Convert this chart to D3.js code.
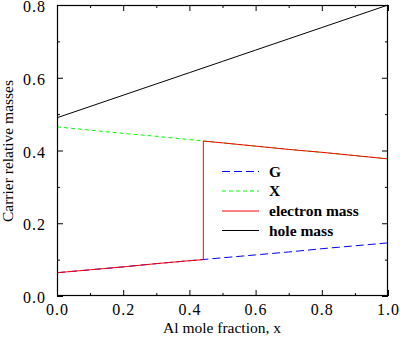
<!DOCTYPE html>
<html><head><meta charset="utf-8">
<script src="https://cdn.jsdelivr.net/npm/d3@7"></script>
<style>body{margin:0;background:#fff}svg{display:block}</style>
</head><body>
<script>
const alFraction = [0,0.1,0.2,0.3,0.4,0.5,0.6,0.7,0.8,0.9,1.0];
const gammaMass = [0.064,0.072,0.080,0.089,0.097,0.105,0.113,0.121,0.130,0.138,0.146];
const xMass     = [0.465,0.456,0.447,0.439,0.430,0.421,0.412,0.403,0.395,0.386,0.377];
const holeMass  = [0.490,0.521,0.552,0.583,0.614,0.645,0.676,0.707,0.738,0.769,0.800];
const electronX    = [0,0.1,0.2,0.3,0.4,0.442,0.442,0.5,0.6,0.7,0.8,0.9,1.0];
const electronMass = [0.064,0.072,0.080,0.089,0.097,0.100,0.426,0.421,0.412,0.403,0.395,0.386,0.377];
const xTicks = [0,0.2,0.4,0.6,0.8,1.0];
const yTicks = [0,0.2,0.4,0.6,0.8];
const legendLabels = ["G","X","electron mass","hole mass"];

const W=400,H=345, L=57,R=388,T=5,B=296;
const svg=d3.select("body").append("svg").attr("width",W).attr("height",H);
const x=d3.scaleLinear().domain([0,1]).range([L,R]);
const y=d3.scaleLinear().domain([0,0.8]).range([B,T]);
const font="'Liberation Serif','Times New Roman',serif";

const line=d3.line().x(d=>x(d[0])).y(d=>y(d[1]));
const series=[
 {pts:d3.zip(alFraction,gammaMass),color:"#0000ff",dash:"8,4"},
 {pts:d3.zip(alFraction,xMass),color:"#00ff00",dash:"4,3"},
 {pts:d3.zip(electronX,electronMass),color:"#ff0000",dash:null},
 {pts:d3.zip(alFraction,holeMass),color:"#000000",dash:null}
];
series.forEach(s=>{
  svg.append("path").attr("d",line(s.pts)).attr("fill","none")
    .attr("stroke",s.color).attr("stroke-width",1)
    .attr("stroke-dasharray",s.dash);
});

// frame
svg.append("rect").attr("x",L+0.5).attr("y",T+0.5).attr("width",R-L-1).attr("height",B-T-1)
  .attr("fill","none").attr("stroke","#000").attr("stroke-width",1.2);

function styleAxis(g){g.select(".domain").remove();g.selectAll("line").attr("stroke","#000");}
const xMinorV=d3.range(0.1,1,0.2), yMinorV=d3.range(0.1,0.8,0.2);
svg.append("g").attr("transform",`translate(0,${B})`).call(d3.axisTop(x).tickValues(xTicks).tickSize(6).tickFormat("")).call(styleAxis);
svg.append("g").attr("transform",`translate(0,${B})`).call(d3.axisTop(x).tickValues(xMinorV).tickSize(3).tickFormat("")).call(styleAxis);
svg.append("g").attr("transform",`translate(0,${T})`).call(d3.axisBottom(x).tickValues(xTicks).tickSize(6).tickFormat("")).call(styleAxis);
svg.append("g").attr("transform",`translate(0,${T})`).call(d3.axisBottom(x).tickValues(xMinorV).tickSize(3).tickFormat("")).call(styleAxis);
svg.append("g").attr("transform",`translate(${L},0)`).call(d3.axisRight(y).tickValues(yTicks).tickSize(6).tickFormat("")).call(styleAxis);
svg.append("g").attr("transform",`translate(${L},0)`).call(d3.axisRight(y).tickValues(yMinorV).tickSize(3).tickFormat("")).call(styleAxis);
svg.append("g").attr("transform",`translate(${R},0)`).call(d3.axisLeft(y).tickValues(yTicks).tickSize(6).tickFormat("")).call(styleAxis);
svg.append("g").attr("transform",`translate(${R},0)`).call(d3.axisLeft(y).tickValues(yMinorV).tickSize(3).tickFormat("")).call(styleAxis);

// tick labels
svg.append("g").selectAll("text").data(xTicks).join("text")
  .attr("x",d=>x(d)+0.5).attr("y",315).attr("text-anchor","middle")
  .attr("font-family",font).attr("font-size",16).attr("letter-spacing",1).text(d=>d.toFixed(1));
svg.append("g").selectAll("text").data(yTicks).join("text")
  .attr("x",46).attr("y",d=>y(d)+7).attr("text-anchor","end")
  .attr("font-family",font).attr("font-size",16).attr("letter-spacing",1).text(d=>d.toFixed(1));

// axis titles
svg.append("text").attr("x",222).attr("y",333).attr("text-anchor","middle")
  .attr("font-family",font).attr("font-size",15.5).text("Al mole fraction, x");
svg.append("text").attr("transform","translate(13,151) rotate(-90)").attr("text-anchor","middle")
  .attr("font-family",font).attr("font-size",15.5).text("Carrier relative masses");

// legend
const ly=[171.5,191,211,230.5];
const lg=svg.append("g");
series.forEach((s,i)=>{
  lg.append("line").attr("x1",222).attr("x2",259).attr("y1",ly[i]).attr("y2",ly[i])
    .attr("stroke",s.color).attr("stroke-width",1).attr("stroke-dasharray",s.dash);
  lg.append("text").attr("x",269).attr("y",ly[i]+5).attr("font-family",font)
    .attr("font-weight","bold").attr("font-size",15.5).text(legendLabels[i]);
});
</script>
</body></html>
